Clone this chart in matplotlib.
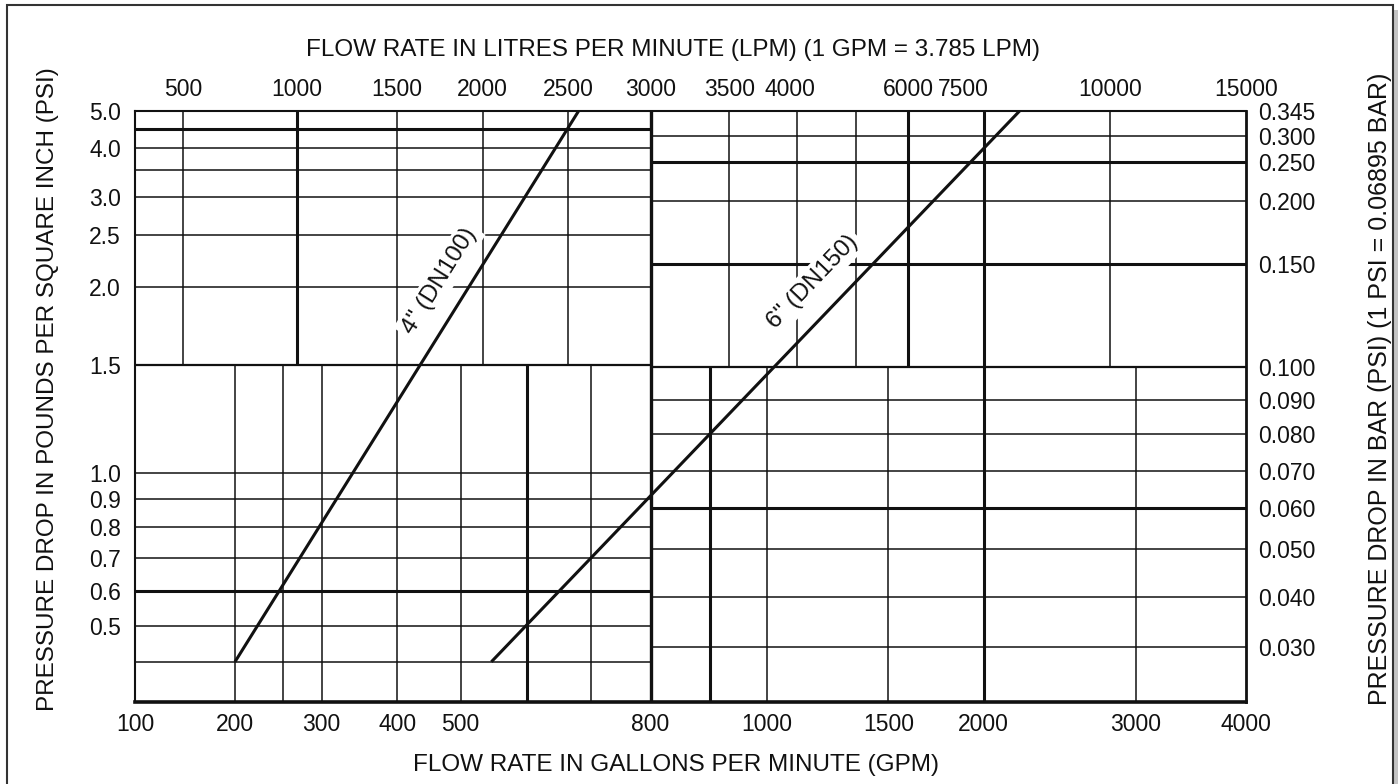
import numpy as np
import matplotlib
matplotlib.use("Agg")
import matplotlib.pyplot as plt
from matplotlib.patches import Rectangle
from matplotlib.ticker import NullLocator
from matplotlib.transforms import ScaledTranslation

plt.rcParams['font.family'] = ['Liberation Sans', 'DejaVu Sans']

# ---- chart data ----
GPM_TICKS = [100, 200, 300, 400, 500, 800, 1000, 1500, 2000, 3000, 4000]
LPM_TICKS = [500, 1000, 1500, 2000, 2500, 3000, 3500, 4000, 6000, 7500, 10000, 15000]
PSI_TICKS = [0.5, 0.6, 0.7, 0.8, 0.9, 1.0, 1.5, 2.0, 2.5, 3.0, 4.0, 5.0]
BAR_TICKS = [0.03, 0.04, 0.05, 0.06, 0.07, 0.08, 0.09, 0.10, 0.15, 0.20, 0.25, 0.30, 0.345]

# grid lines of the four quadrants (left half GPM/LPM x PSI, right half GPM/LPM x BAR)
TL_LPM = [500, 1000, 1500, 2000, 2500]
TL_PSI = [2.0, 2.5, 3.0, 3.5, 4.0, 4.5]
BL_GPM = [200, 250, 300, 400, 500, 600, 700]
BL_PSI = [0.4, 0.5, 0.6, 0.7, 0.8, 0.9, 1.0]
TR_LPM = [3500, 4000, 5000, 6000, 7500, 10000]
TR_BAR = [0.15, 0.20, 0.25, 0.30]
BR_GPM = [900, 1000, 1500, 2000, 3000]
BR_BAR = [0.03, 0.04, 0.05, 0.06, 0.07, 0.08, 0.09]
BOLD = {('lpm', 1000), ('psi', 4.5), ('gpm', 600), ('psi', 0.6), ('lpm', 6000),
        ('lpm', 7500), ('bar', 0.25), ('bar', 0.15), ('gpm', 900), ('gpm', 2000),
        ('bar', 0.06)}

# pressure drop curves
PIPE4_GPM = [200, 680]
PIPE4_PSI = [0.4, 5.0]
PIPE6_GPM = [544, 2200]
PIPE6_PSI = [0.4, 5.0]

# ---- the printed chart's rulers (value -> fraction of axis length) ----
GPM_RULER = [100, 200, 250, 300, 400, 500, 600, 700, 800, 900, 1000, 1500, 2000, 3000, 4000]
GPM_FRAC = [0, .090, .133, .168, .236, .293, .353, .410, .464, .518, .569, .678, .764, .901, 1]
LPM_RULER = [378.5, 500, 1000, 1500, 2000, 2500, 3000, 3500, 4000, 5000, 6000, 7500, 10000, 15000]
LPM_FRAC = [0, .043, .146, .236, .313, .390, .464, .535, .596, .649, .696, .764, .878, 1]
PSI_RULER = [0.31, 0.4, 0.5, 0.6, 0.7, 0.8, 0.9, 1.0, 1.5, 2.0, 2.5, 3.0, 3.5, 4.0, 4.5, 5.0]
PSI_FRAC = [0, .068, .129, .188, .244, .296, .343, .387, .570, .702, .790, .854, .900, .937, .970, 1]
BAR_RULER = [0.022, 0.03, 0.04, 0.05, 0.06, 0.07, 0.08, 0.09, 0.10, 0.15, 0.20, 0.25, 0.30, 0.345]
BAR_FRAC = [0, .093, .178, .259, .328, .391, .453, .511, .567, .741, .848, .914, .958, 1]


def ruler(values, fracs):
	lv = np.log10(values)
	fr = np.asarray(fracs, dtype=float)
	def fwd(v):
		return np.interp(np.log10(np.clip(v, 1e-9, None)), lv, fr)
	def inv(f):
		return 10 ** np.interp(f, fr, lv)
	return fwd, inv


gpm_fwd, gpm_inv = ruler(GPM_RULER, GPM_FRAC)
lpm_fwd, lpm_inv = ruler(LPM_RULER, LPM_FRAC)
psi_fwd, psi_inv = ruler(PSI_RULER, PSI_FRAC)
bar_fwd, bar_inv = ruler(BAR_RULER, BAR_FRAC)

def lpm2gpm(v):
	return gpm_inv(lpm_fwd(v))

def bar2psi(v):
	return psi_inv(bar_fwd(v))


INK = '#111111'
THIN, THICK = 1.1, 2.2
FS_TICK, FS_TITLE = 16.5, 17.5

W, H = 1398, 784
fig = plt.figure(figsize=(W / 100, H / 100), dpi=100)
ax = fig.add_axes([135 / W, 1 - 702 / H, 1111 / W, 591 / H])
ax.set_xscale('function', functions=(gpm_fwd, gpm_inv))
ax.set_yscale('function', functions=(psi_fwd, psi_inv))
ax.set_xlim(100, 4000)
ax.set_ylim(0.31, 5.0)

def lw(kind, v):
	return THICK if (kind, v) in BOLD else THIN

psi_split = 1.5
bar_split_psi = bar2psi(0.10)
ymin, ymax = 0.31, 5.0

# top left: LPM x PSI
for v in TL_LPM:
	ax.vlines(lpm2gpm(v), psi_split, ymax, colors=INK, lw=lw('lpm', v))
for v in TL_PSI:
	ax.hlines(v, 100, 800, colors=INK, lw=lw('psi', v))
# bottom left: GPM x PSI
for v in BL_GPM:
	ax.vlines(v, ymin, psi_split, colors=INK, lw=lw('gpm', v))
for v in BL_PSI:
	ax.hlines(v, 100, 800, colors=INK, lw=lw('psi', v))
# top right: LPM x BAR
for v in TR_LPM:
	ax.vlines(lpm2gpm(v), bar_split_psi, ymax, colors=INK, lw=lw('lpm', v))
for v in TR_BAR:
	ax.hlines(bar2psi(v), 800, 4000, colors=INK, lw=lw('bar', v))
# bottom right: GPM x BAR
for v in BR_GPM:
	ax.vlines(v, ymin, bar_split_psi, colors=INK, lw=lw('gpm', v))
for v in BR_BAR:
	ax.hlines(bar2psi(v), 800, 4000, colors=INK, lw=lw('bar', v))
# quadrant borders
ax.vlines(800, ymin, ymax, colors=INK, lw=2.4)
ax.hlines(psi_split, 100, 800, colors=INK, lw=1.6)
ax.hlines(bar_split_psi, 800, 4000, colors=INK, lw=1.6)

# pipe curves
ax.plot(PIPE4_GPM, PIPE4_PSI, color=INK, lw=2.2, solid_capstyle='butt', zorder=5)
ax.plot(PIPE6_GPM, PIPE6_PSI, color=INK, lw=2.2, solid_capstyle='butt', zorder=5)


def line_label(xs, ys, text, t, offset):
	p0 = ax.transData.transform((xs[0], ys[0]))
	p1 = ax.transData.transform((xs[1], ys[1]))
	d = p1 - p0
	ang = np.degrees(np.arctan2(d[1], d[0]))
	n = np.array([-d[1], d[0]]) / np.hypot(*d)
	xy = ax.transData.inverted().transform(p0 + t * d)
	ax.annotate(text, xy=xy, xytext=tuple(n * offset), textcoords='offset pixels',
				rotation=ang, rotation_mode='anchor', ha='center', va='center',
				fontsize=17.5, color=INK, zorder=4,
				bbox=dict(boxstyle='square,pad=0.15', fc='white', ec='none'))

line_label(PIPE4_GPM, PIPE4_PSI, '4" (DN100)', 0.664, 28)
line_label(PIPE6_GPM, PIPE6_PSI, '6" (DN150)', 0.651, 31)

# axes / ticks
for side, w in [('left', 1.5), ('bottom', 2.6), ('top', 1.5), ('right', 2.0)]:
	ax.spines[side].set_linewidth(w)
	ax.spines[side].set_color(INK)
ax.set_xticks(GPM_TICKS)
ax.set_xticklabels([str(v) for v in GPM_TICKS])
ax.set_yticks(PSI_TICKS)
ax.set_yticklabels(['%.1f' % v for v in PSI_TICKS])
ax.xaxis.set_minor_locator(NullLocator())
ax.yaxis.set_minor_locator(NullLocator())
ax.tick_params(axis='x', length=0, labelsize=FS_TICK, pad=8, colors=INK)
ax.tick_params(axis='y', length=0, labelsize=FS_TICK, pad=10, colors=INK)

ax_top = ax.twiny()
ax_top.set_xscale('function', functions=(lpm_fwd, lpm_inv))
ax_top.set_xlim(378.5, 15000)
ax_top.set_xticks(LPM_TICKS)
ax_top.set_xticklabels([str(v) for v in LPM_TICKS])
ax_top.xaxis.set_minor_locator(NullLocator())
ax_top.tick_params(axis='x', length=0, labelsize=FS_TICK, pad=7, colors=INK)
# the printed labels for 4000 and 7500 sit a little left of their grid lines
top_labels = ax_top.get_xticklabels()
for val, shift in [(4000, -7), (7500, -20)]:
	lab = top_labels[LPM_TICKS.index(val)]
	lab.set_transform(lab.get_transform() + ScaledTranslation(shift / 100, 0, fig.dpi_scale_trans))

ax_right = ax.twinx()
ax_right.set_yscale('function', functions=(bar_fwd, bar_inv))
ax_right.set_ylim(0.022, 0.345)
ax_right.set_yticks(BAR_TICKS)
ax_right.set_yticklabels(['%.3f' % v for v in BAR_TICKS])
ax_right.yaxis.set_minor_locator(NullLocator())
ax_right.tick_params(axis='y', length=0, labelsize=FS_TICK, pad=9, colors=INK)

for a in (ax_top, ax_right):
	for s in a.spines.values():
		s.set_visible(False)

# titles
fig.text(673 / W, 1 - 50 / H, 'FLOW RATE IN LITRES PER MINUTE (LPM) (1 GPM = 3.785 LPM)',
		 ha='center', va='center', fontsize=FS_TITLE, color=INK)
fig.text(676 / W, 1 - 765 / H, 'FLOW RATE IN GALLONS PER MINUTE (GPM)',
		 ha='center', va='center', fontsize=FS_TITLE, color=INK)
fig.text(48 / W, 1 - 389 / H, 'PRESSURE DROP IN POUNDS PER SQUARE INCH (PSI)',
		 ha='center', va='center', rotation=90, fontsize=FS_TITLE, color=INK)
fig.text(1380 / W, 1 - 389 / H, 'PRESSURE DROP IN BAR (PSI) (1 PSI = 0.06895 BAR)',
		 ha='center', va='center', rotation=90, fontsize=18, color=INK)

# page frame with a light shadow on the right
fig.add_artist(Rectangle((1394 / W, -0.02), 4 / W, 1 - 10 / H + 0.02,
						 transform=fig.transFigure, fc='#c4c4c4', ec='none'))
fig.add_artist(Rectangle((7 / W, -0.02), 1386 / W, 1 - 5 / H + 0.02,
						 transform=fig.transFigure, fill=False, ec='#333333', lw=1.5))

fig.savefig('out.png', dpi=100)
